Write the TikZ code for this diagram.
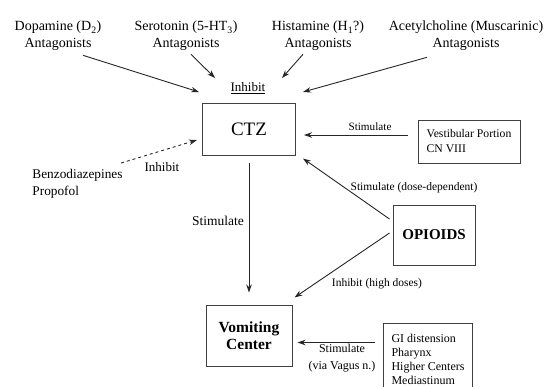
\documentclass[tikz,border=0pt]{standalone}
\usepackage{fontspec}
\setmainfont{Liberation Serif}
\usetikzlibrary{positioning,arrows.meta}

\begin{document}
\begin{tikzpicture}[x=1pt,y=-1pt,>={Stealth[length=8pt,width=5.5pt]},line width=0.9pt,
  link/.style={->,draw=black!85},
  box/.style={draw=black!75,line width=1pt,inner sep=0pt},
  lbl/.style={font=\fontsize{14}{17}\selectfont,align=center,inner sep=1pt},
  note/.style={font=\fontsize{11.5}{14}\selectfont,inner sep=1pt}]
\useasboundingbox (0,0) rectangle (549,386);

% antagonists on top
\node[lbl] (dop) at (58,36) {Dopamine (D\textsubscript{2})\\Antagonists};
\node[lbl] (ser) at (186,36) {Serotonin (5-HT\textsubscript{3})\\Antagonists};
\node[lbl] (his) at (318,36) {Histamine (H\textsubscript{1}?)\\Antagonists};
\node[lbl] (ach) at (466,36) {Acetylcholine (Muscarinic)\\Antagonists};
\node[note,font=\fontsize{13}{15}\selectfont] (inh) at (248,88) {\underline{Inhibit}};

% main boxes
\node[box,minimum width=93,minimum height=52,font=\fontsize{19}{22}\selectfont] (ctz) at (249,129) {CTZ};
\node[box,minimum width=102,minimum height=43,align=left,font=\fontsize{11.7}{15}\selectfont] (vest) at (469,141.5) {Vestibular Portion\\CN VIII};
\node[box,minimum width=82,minimum height=60,font=\fontsize{15}{17}\selectfont\bfseries] (opi) at (434,235) {OPIOIDS};
\node[box,minimum width=86,minimum height=61,align=center,font=\fontsize{15.5}{17}\selectfont\bfseries] (vom) at (249,335.5) {Vomiting\\Center};
\node[box,anchor=north west,minimum width=89,minimum height=72,inner xsep=7pt,inner ysep=6pt,align=left,font=\fontsize{12}{14}\selectfont] (gi) at (383,323) {GI distension\\Pharynx\\Higher Centers\\Mediastinum};
\node[lbl,anchor=west,align=left,font=\fontsize{13.3}{17}\selectfont] (ben) at (31,184) {Benzodiazepines\\Propofol};

% labels on the arrows
\node[note,font=\fontsize{11.2}{13}\selectfont] (stv) at (370,127) {Stimulate};
\node[note] (sdd) at (414,188) {Stimulate (dose-dependent)};
\node[note,font=\fontsize{13.5}{15}\selectfont] (stc) at (218,221) {Stimulate};
\node[note] (ihd) at (377,284) {Inhibit (high doses)};
\node[note,align=center,font=\fontsize{12}{17}\selectfont] (svn) at (342,358) {Stimulate\\(via Vagus n.)};
\node[note,font=\fontsize{13}{15}\selectfont] (ibz) at (162,167) {Inhibit};

% arrows into the CTZ
\coordinate (dopend) at (199,92);
\coordinate (serend) at (215,78);
\coordinate (hisend) at (282,78);
\coordinate (achend) at (303,92);
\draw[link] ([shift={(25,3)}]dop.south) -- (dopend);
\draw[link] ([shift={(5,2)}]ser.south) -- (serend);
\draw[link] ([shift={(-15,2)}]his.south) -- (hisend);
\draw[link] ([shift={(-39,5)}]ach.south) -- (achend);
\draw[link] ([shift={(-10,-6.5)}]vest.west) -- ([shift={(8,6)}]ctz.east);
\draw[link,dash pattern=on 3pt off 3pt] ([shift={(-3,-5)}]ben.north east) -- ([shift={(-5,11)}]ctz.west);
\draw[link] ([shift={(-3,-16)}]opi.west) -- ([shift={(7,3)}]ctz.south east);

% arrows into the vomiting center
\draw[link,shorten <=7pt,shorten >=12pt] (ctz) -- (vom);
\draw[link] ([shift={(-3,-2)}]opi.west) -- ([shift={(2,-7)}]vom.north east);
\draw[link,shorten <=8pt,shorten >=5pt] ([yshift=-7pt]gi.west |- vom.east) -- ([yshift=-7pt]vom.east);
\end{tikzpicture}
\end{document}
